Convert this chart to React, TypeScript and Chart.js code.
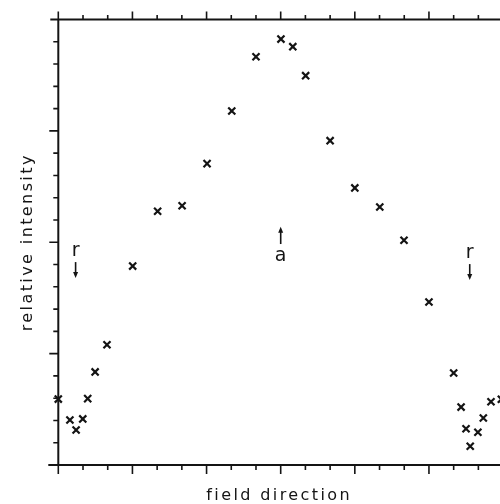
import { useEffect, useRef } from "react";
import { Chart, registerables } from "chart.js";

Chart.register(...registerables);

// field direction (degrees) and relative intensity (arbitrary units)
const directions = [0, 4.7, 7.2, 9.9, 11.9, 14.9, 19.7, 30.1, 40.2, 50.1, 60.2, 70.2, 80, 90.1, 94.9, 100.1, 110, 120, 130.1, 139.9, 150, 160, 163, 165, 166.7, 169.8, 172, 175.1, 179.3];
const intensities = [2.96, 2.02, 1.57, 2.07, 2.98, 4.18, 5.4, 8.93, 11.39, 11.64, 13.53, 15.89, 18.33, 19.12, 18.78, 17.48, 14.56, 12.44, 11.58, 10.09, 7.32, 4.13, 2.6, 1.63, 0.84, 1.47, 2.11, 2.84, 2.95];

// tick values
const xTicks = [0, 10, 20, 30, 40, 50, 60, 70, 80, 90, 100, 110, 120, 130, 140, 150, 160, 170];
const yTicks = [1, 2, 3, 4, 5, 6, 7, 8, 9, 10, 11, 12, 13, 14, 15, 16, 17, 18, 19];

// annotations: label, x, label y, arrow start y, arrow end y
const markLabels = ["r", "a", "r"];
const markX = [7.0, 90, 166.5];
const markLabelY = [9.61, 9.4, 9.52];
const markArrowFrom = [9.11, 9.92, 9.02];
const markArrowTo = [8.39, 10.7, 8.31];

const INK = "#141414";

const framePlugin = {
  id: "frame",
  beforeDraw(chart: any) {
    chart.ctx.letterSpacing = "2.4px";
  },
  afterDraw(chart: any) {
    const ctx = chart.ctx as CanvasRenderingContext2D;
    const { left, right, top, bottom } = chart.chartArea;
    const xs = chart.scales.x;
    const ys = chart.scales.y;
    ctx.save();
    (ctx as any).letterSpacing = "0px";
    ctx.strokeStyle = INK;
    ctx.fillStyle = INK;
    ctx.lineWidth = 2;
    ctx.lineCap = "butt";
    // axis lines
    ctx.beginPath();
    ctx.moveTo(left - 8, top);
    ctx.lineTo(right + 2, top);
    ctx.moveTo(left - 10, bottom);
    ctx.lineTo(right + 2, bottom);
    ctx.moveTo(left, top - 1);
    ctx.lineTo(left, bottom + 1);
    ctx.stroke();
    // x ticks (top up, bottom down)
    ctx.lineWidth = 1.6;
    ctx.beginPath();
    xTicks.forEach((v) => {
      const px = xs.getPixelForValue(v);
      const major = v % 30 === 0;
      ctx.moveTo(px, top);
      ctx.lineTo(px, top - (major ? 8 : 4.5));
      ctx.moveTo(px, bottom);
      ctx.lineTo(px, bottom + (major ? 9 : 5));
    });
    // y ticks (left, outward)
    yTicks.forEach((v) => {
      const py = ys.getPixelForValue(v);
      const major = v % 5 === 0;
      ctx.moveTo(left, py);
      ctx.lineTo(left - (major ? 9 : 5), py);
    });
    ctx.stroke();
    // annotations
    ctx.font = "19px 'DejaVu Sans'";
    ctx.textAlign = "center";
    ctx.textBaseline = "middle";
    markLabels.forEach((lab, i) => {
      const px = xs.getPixelForValue(markX[i]);
      ctx.fillText(lab, px, ys.getPixelForValue(markLabelY[i]));
      const y0 = ys.getPixelForValue(markArrowFrom[i]);
      const y1 = ys.getPixelForValue(markArrowTo[i]);
      const dir = y1 > y0 ? 1 : -1;
      ctx.lineWidth = 1.6;
      ctx.beginPath();
      ctx.moveTo(px, y0);
      ctx.lineTo(px, y1 - dir * 4);
      ctx.stroke();
      ctx.beginPath();
      ctx.moveTo(px, y1);
      ctx.lineTo(px - 2.5, y1 - dir * 6);
      ctx.lineTo(px + 2.5, y1 - dir * 6);
      ctx.closePath();
      ctx.fill();
    });
    ctx.restore();
  },
};

export default function App() {
  const ref = useRef<HTMLCanvasElement | null>(null);
  useEffect(() => {
    if (!ref.current) return;
    const chart = new Chart(ref.current, {
      type: "scatter",
      data: {
        datasets: [
          {
            data: directions.map((d, i) => ({ x: d, y: intensities[i] })),
            pointStyle: "crossRot",
            pointRadius: 5,
            pointHoverRadius: 5,
            borderWidth: 2.2,
            borderColor: INK,
            backgroundColor: INK,
            clip: false,
          } as any,
        ],
      },
      options: {
        animation: false,
        responsive: false,
        devicePixelRatio: 1,
        events: [],
        layout: { autoPadding: false, padding: { top: 19.5, left: 0, right: 0, bottom: 0 } },
        plugins: { legend: { display: false }, tooltip: { enabled: false } },
        scales: {
          x: {
            type: "linear",
            min: 0,
            max: 178.75,
            grid: { display: false, drawTicks: false },
            border: { display: false },
            ticks: { display: false },
            title: {
              display: true,
              text: "field direction",
              color: INK,
              font: { family: "'DejaVu Sans'", size: 16, lineHeight: 1 },
              padding: { top: 23, bottom: 0 },
            },
          },
          y: {
            type: "linear",
            min: 0,
            max: 20,
            grid: { display: false, drawTicks: false },
            border: { display: false },
            ticks: { display: false },
            title: {
              display: true,
              text: "relative intensity",
              color: INK,
              font: { family: "'DejaVu Sans'", size: 16, lineHeight: 1 },
              padding: { top: 20, bottom: 22.3 },
            },
          },
        },
      },
      plugins: [framePlugin],
    });
    return () => chart.destroy();
  }, []);
  return (
    <div style={{ position: "fixed", left: 0, top: 0, width: 500, height: 504, background: "#fff" }}>
      <canvas ref={ref} width={500} height={504} />
    </div>
  );
}
